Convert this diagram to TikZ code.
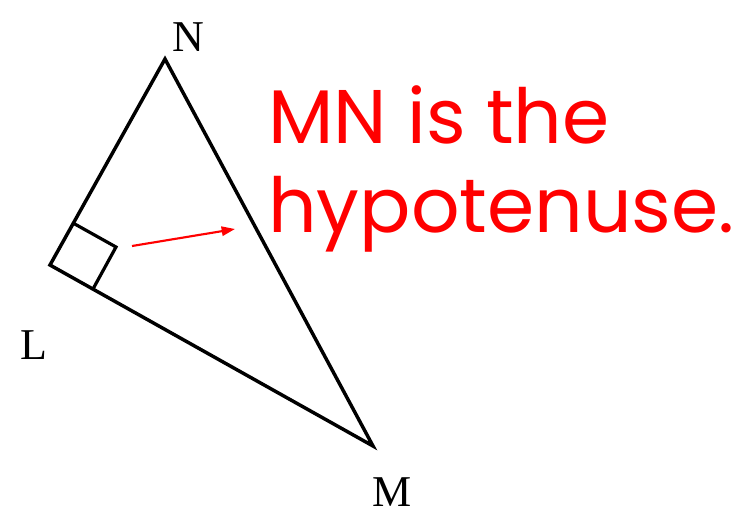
\documentclass[tikz,border=0pt]{standalone}
\usepackage{fontspec}
\setmainfont{Liberation Serif}
\newfontfamily\notefont{Poppins}
\usetikzlibrary{arrows.meta}

\begin{document}
\begin{tikzpicture}[x=0.75pt,y=-0.75pt]
\useasboundingbox (0,0) rectangle (734,519);
\coordinate (L) at (50,265); \coordinate (M) at (373,446); \coordinate (N) at (165,59);
\coordinate (P) at (73,223); \coordinate (Q) at (93,289); \coordinate (R) at (116,247);
\draw[line width=2.6pt,line join=miter] (L)--(M)--(N)--cycle;
\draw[line width=2.4pt] (P)--(R)--(Q);
\node[font=\fontsize{33}{33}\selectfont] (labN) at (188,37) {N};
\node[font=\fontsize{33}{33}\selectfont] (labL) at (34,345) {L};
\node[font=\fontsize{33}{33}\selectfont] (labM) at (392,492) {M};
\node[red,inner sep=0,anchor=base west,font=\notefont\fontsize{57}{57}\selectfont] (line1) at (268,143) {MN is the};
\node[red,inner sep=0,anchor=base west,font=\notefont\fontsize{57}{57}\selectfont] (line2) at (268,232) {hypotenuse.};
\coordinate (from) at (132,246); \coordinate (to) at (235,229);
\draw[red,line width=1.6pt,-{Triangle[length=10pt,width=7pt]}] (from)--(to);
\end{tikzpicture}
\end{document}
